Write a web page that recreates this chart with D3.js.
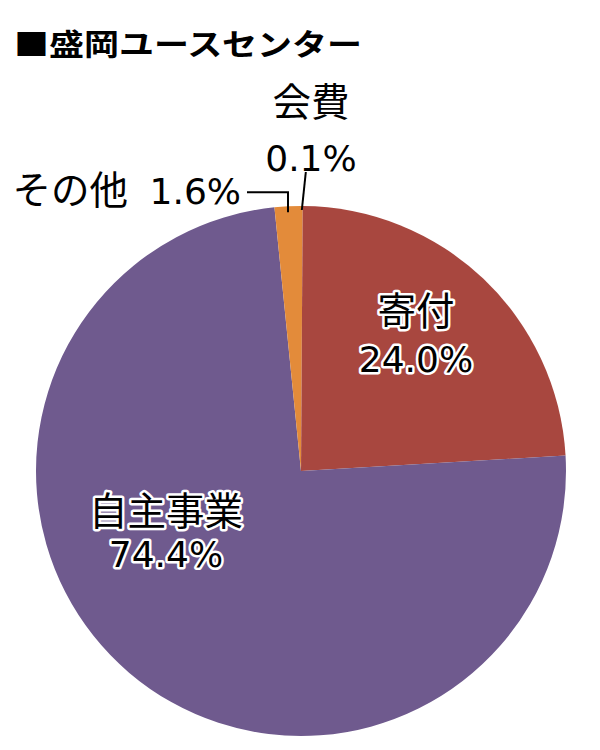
<!DOCTYPE html>
<html>
<head>
<meta charset="utf-8">
<script src="https://cdn.jsdelivr.net/npm/d3@7"></script>
<style>
  body { margin: 0; background: #fff; }
  svg text { font-family: "DejaVu Sans", "Noto Sans CJK JP", sans-serif; }
</style>
</head>
<body>
<svg id="chart" width="600" height="750"></svg>
<script>
// slice data, clockwise from 12 o'clock
const categories = ["会費", "寄付", "自主事業", "その他"];
const values = [0.1, 24.0, 74.4, 1.6];
const colors = ["#E38B3A", "#A8473F", "#6F5A8E", "#E38B3A"];
const title = "■盛岡ユースセンター";

const width = 600;
const height = 750;
const cx = 301;
const cy = 471;
const radius = 265;

const svg = d3.select("#chart");

// Title
svg
  .append("text")
  .attr("x", 14)
  .attr("y", 55)
  .attr("textLength", 348)
  .attr("lengthAdjust", "spacingAndGlyphs")
  .style("font-family", "'Noto Sans CJK JP', sans-serif")
  .style("font-weight", "bold")
  .style("font-size", "30px")
  .attr("fill", "#000")
  .text(title);

const data = categories.map((c, i) => ({ name: c, value: values[i], color: colors[i] }));

const pie = d3.pie().sort(null).value((d) => d.value);
const arcs = pie(data);

const arc = d3.arc().innerRadius(0).outerRadius(radius);

const chart = svg.append("g").attr("transform", `translate(${cx}, ${cy})`);

chart
  .selectAll("path")
  .data(arcs)
  .enter()
  .append("path")
  .attr("d", arc)
  .attr("fill", (d) => d.data.color);

// point on the rim at the middle of a slice
const rimPoint = (d, r) => {
  const a = (d.startAngle + d.endAngle) / 2;
  return [r * Math.sin(a), -r * Math.cos(a)];
};

// Leader lines for the two small slices
const kaihi = arcs[0];
const p0 = rimPoint(kaihi, radius - 4);
chart
  .append("path")
  .attr("d", `M${p0[0]},${p0[1]} L${p0[0] + 4},${p0[1] - 38}`)
  .attr("stroke", "#000")
  .attr("stroke-width", 2)
  .attr("fill", "none");

const sonota = arcs[3];
const p3 = rimPoint(sonota, radius - 6);
chart
  .append("path")
  .attr("d", `M${p3[0]},${p3[1]} L${p3[0]},${p3[1] - 20} L${p3[0] - 41},${p3[1] - 20}`)
  .attr("stroke", "#000")
  .attr("stroke-width", 2)
  .attr("fill", "none");

const fmt = (v) => v.toFixed(1) + "%";

// label layout, relative to pie centre
const labelPos = {
  "会費": { x: 10, lines: [-355, -300], halo: false },
  "寄付": { x: 115, lines: [-146, -99], halo: true },
  "自主事業": { x: -135, lines: [54, 96], halo: true },
};

const numSize = 36;
const nameSize = 38.5;

arcs.slice(0, 3).forEach((d) => {
  const lp = labelPos[d.data.name];
  const t = chart
    .append("text")
    .attr("text-anchor", "middle")
    .attr("fill", "#000");
  if (lp.halo) {
    t.attr("stroke", "#fff").attr("stroke-width", 5).attr("stroke-linejoin", "round").attr("paint-order", "stroke");
  }
  t.append("tspan").attr("x", lp.x).attr("y", lp.lines[0]).style("font-size", nameSize + "px").text(d.data.name);
  t.append("tspan").attr("x", lp.x).attr("y", lp.lines[1]).style("font-size", numSize + "px").text(fmt(d.data.value));
});

// その他 label on one line, left of its leader
const st = chart
  .append("text")
  .attr("x", p3[0] - 47)
  .attr("y", p3[1] - 8)
  .attr("text-anchor", "end")
  .attr("fill", "#000");
st.append("tspan").style("font-size", nameSize + "px").text(sonota.data.name);
st.append("tspan").attr("dx", 10).style("font-size", numSize + "px").text(" " + fmt(sonota.data.value));
</script>
</body>
</html>
